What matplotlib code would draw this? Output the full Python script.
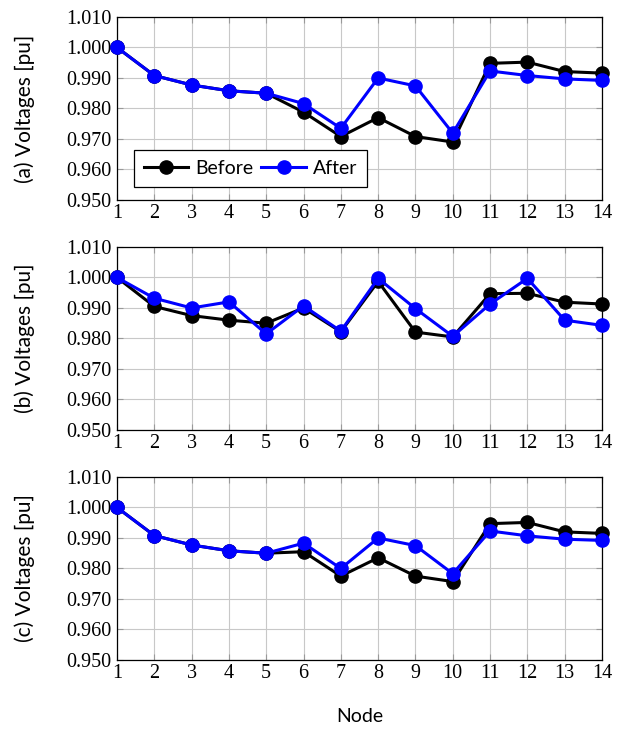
import matplotlib
matplotlib.use('Agg')
import matplotlib.pyplot as plt

nodes = list(range(1, 15))

before_a = [1.000, 0.9908, 0.9877, 0.9858, 0.985, 0.9788, 0.9708, 0.977, 0.9708, 0.969, 0.9948, 0.9952, 0.9921, 0.9916]
after_a = [1.000, 0.9908, 0.9877, 0.9858, 0.985, 0.9816, 0.9735, 0.990, 0.9874, 0.9719, 0.9923, 0.9908, 0.9897, 0.9892]

before_b = [1.000, 0.9905, 0.9875, 0.986, 0.985, 0.990, 0.9822, 0.9987, 0.9821, 0.9805, 0.9947, 0.9948, 0.9919, 0.9913]
after_b = [1.000, 0.9932, 0.990, 0.992, 0.9815, 0.9907, 0.9824, 0.9997, 0.9898, 0.9807, 0.9913, 0.9997, 0.986, 0.9843]

before_c = [1.000, 0.9908, 0.9877, 0.9858, 0.985, 0.9855, 0.9775, 0.9835, 0.9775, 0.9757, 0.9947, 0.9951, 0.992, 0.9915]
after_c = [1.000, 0.9908, 0.9877, 0.9858, 0.985, 0.9883, 0.980, 0.990, 0.9875, 0.9783, 0.9923, 0.9907, 0.9896, 0.9892]

panel_labels = ['(a) Voltages [pu]', '(b) Voltages [pu]', '(c) Voltages [pu]']
yticks = [0.95, 0.96, 0.97, 0.98, 0.99, 1.00, 1.01]

serif = ['Liberation Serif', 'DejaVu Serif']
sans = ['Lato', 'DejaVu Sans']

fig = plt.figure(figsize=(6.24, 7.29), dpi=100)
left, width, height = 0.1875, 0.7772, 0.251
bottoms = [0.7257, 0.4102, 0.0947]
series = [(before_a, after_a), (before_b, after_b), (before_c, after_c)]

for i, (bot, (bef, aft)) in enumerate(zip(bottoms, series)):
    ax = fig.add_axes([left, bot, width, height])
    ax.plot(nodes, bef, color='black', lw=2.2, marker='o', ms=9.5, label='Before', zorder=3, clip_on=False)
    ax.plot(nodes, aft, color='#0000ff', lw=2.2, marker='o', ms=9.5, label='After', zorder=4, clip_on=False)
    ax.set_xlim(1, 14)
    ax.set_ylim(0.95, 1.01)
    ax.set_xticks(nodes)
    ax.set_yticks(yticks)
    ax.set_yticklabels(['%.3f' % v for v in yticks], family=serif, fontsize=14.5)
    ax.set_xticklabels([str(n) for n in nodes], family=serif, fontsize=14.5)
    ax.grid(True, color='#c8c8c8', lw=0.8, zorder=0)
    ax.tick_params(direction='in', length=4, color='#999999', top=True, right=True)
    ax.tick_params(axis='x', pad=3)
    ax.tick_params(axis='y', pad=4)
    for s in ax.spines.values():
        s.set_linewidth(0.9)
    # panel label, placed by hand so it sits near the left edge
    fig.text(25 / 624, bot + height / 2, panel_labels[i], family=sans, fontsize=15,
             rotation=90, ha='center', va='center')
    if i == 0:
        leg = ax.legend(loc='lower left', ncol=2, prop={'family': sans, 'size': 14},
                        fancybox=False, edgecolor='black', framealpha=1,
                        bbox_to_anchor=(0.015, 0.02), handlelength=2.3,
                        columnspacing=0.4, handletextpad=0.35, borderpad=0.5)
        leg.get_frame().set_linewidth(0.9)

fig.text(left + width / 2, 12 / 729, 'Node', family=sans, fontsize=14,
         ha='center', va='center')

fig.savefig('out.png', dpi=100, facecolor='white')
